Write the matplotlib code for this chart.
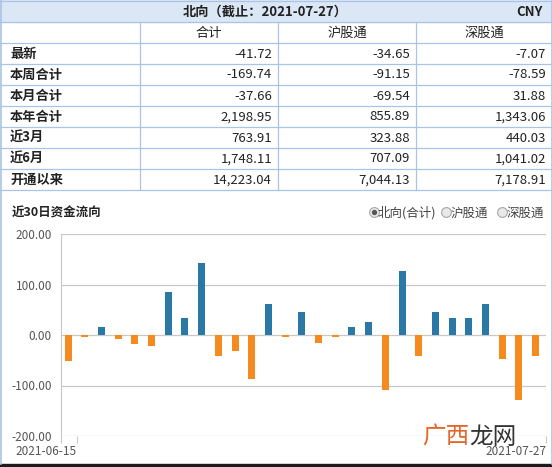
import numpy as np
import matplotlib
matplotlib.use('Agg')
import matplotlib.pyplot as plt
from matplotlib.patches import Rectangle

plt.rcParams['font.family'] = ['Noto Sans CJK SC', 'DejaVu Sans']

# 表格数据
row_names = ['最新', '本周合计', '本月合计', '本年合计', '近3月', '近6月', '开通以来']
col_names = ['合计', '沪股通', '深股通']
total = [-41.72, -169.74, -37.66, 2198.95, 763.91, 1748.11, 14223.04]
sh = [-34.65, -91.15, -69.54, 855.89, 323.88, 707.09, 7044.13]
sz = [-7.07, -78.59, 31.88, 1343.06, 440.03, 1041.02, 7178.91]

# 近30日北向(合计)每日净流入
flow = [-50.7, -3.0, 16.7, -8.7, -18.7, -22.7, 84.7, 32.7, 143.5, -40.7,
        -30.7, -86.7, 60.7, -3.0, 44.7, -16.0, -3.0, 16.7, 26.7, -108.7,
        126.7, -40.7, 44.7, 32.7, 32.7, 61.3, -46.7, -128.02, -41.72]
date_labels = ['2021-06-15', '2021-07-27']
yticks = [-200, -100, 0, 100, 200]

BLUE = '#2a78a6'
ORANGE = '#f58b1f'
LINE = '#a9c4e6'

fig = plt.figure(figsize=(5.52, 4.67), dpi=100)

# 背景层，用像素坐标画表格
bg = fig.add_axes([0, 0, 1, 1])
bg.set_xlim(0, 552)
bg.set_ylim(467, 0)
bg.axis('off')

bg.add_patch(Rectangle((0, 0), 552, 22, color='#dce7f6', zorder=0))
for y in [0.5, 22, 43, 64, 85, 106, 127, 148, 169, 190]:
    bg.plot([0, 552], [y, y], color=LINE, lw=0.9)
for x in [140, 278, 416]:
    bg.plot([x, x], [22, 190], color=LINE, lw=0.9)
bg.plot([0.5, 0.5], [0, 464], color=LINE, lw=1.2)
bg.plot([551.5, 551.5], [0, 464], color=LINE, lw=1.2)

bg.text(265, 11.5, '北向（截止：2021-07-27）', ha='center', va='center',
        fontsize=9.5, weight='bold', color='#222')
bg.text(543, 11.5, 'CNY', ha='right', va='center', fontsize=9.5, weight='bold', color='#222')

col_centers = [209, 347, 484]
col_rights = [272, 410, 546]
for c, name in enumerate(col_names):
    bg.text(col_centers[c], 33, name, ha='center', va='center', fontsize=9.5, color='#222')

for r, name in enumerate(row_names):
    y = 54 + 21 * r
    bg.text(10, y, name, ha='left', va='center', fontsize=9.5, weight='bold', color='#222')
    for c, vals in enumerate([total, sh, sz]):
        bg.text(col_rights[c], y, f'{vals[r]:,.2f}', ha='right', va='center',
                fontsize=9.5, color='#222')

# 图表标题和单选按钮
bg.text(12, 213, '近30日资金流向', ha='left', va='center', fontsize=9, weight='bold', color='#222')
bg.scatter([374, 446, 502], [212, 212, 212], s=50, facecolor='#e8e8e8',
           edgecolor='#a8a8a8', lw=0.8, zorder=3)
bg.scatter([374], [212], s=8, color='#555', zorder=4)
bg.text(378, 213, '北向(合计)', ha='left', va='center', fontsize=9, color='#444')
bg.text(451, 213, '沪股通', ha='left', va='center', fontsize=9, color='#444')
bg.text(507, 213, '深股通', ha='left', va='center', fontsize=9, color='#444')

# 水印
bg.text(422, 437, '广西', ha='left', va='center', fontsize=17, color='#e5652b', zorder=5)
bg.text(469, 437, '龙网', ha='left', va='center', fontsize=17, color='#333', zorder=5)

bg.add_patch(Rectangle((0, 464), 552, 3, color='#1b1b1b'))

# 柱状图
ax = fig.add_axes([61 / 552, (467 - 436) / 467, (546 - 61) / 552, (436 - 234) / 467])
ax.set_facecolor('none')
x = np.arange(len(flow))
colors = [BLUE if v >= 0 else ORANGE for v in flow]
ax.bar(x, flow, width=0.42, color=colors, zorder=3)

ax.set_ylim(-200, 200)
ax.set_yticks(yticks)
ax.set_yticklabels([f'{v:.2f}' for v in yticks])
xl, xr = -0.42, 28.62
ax.set_xlim(xl, xr)
ax.set_xticks([xl, 0.54, xr])
ax.set_xticklabels([''] + date_labels, ha='right')

ax.grid(axis='y', color='#c8c8c8', lw=0.9)
ax.set_axisbelow(True)
for s in ['top', 'right', 'bottom']:
    ax.spines[s].set_visible(False)
ax.spines['left'].set_color('#c8c8c8')
ax.tick_params(axis='y', length=0, pad=6.5, labelsize=8.5, labelcolor='#555')
ax.tick_params(axis='x', length=5, color='#c8c8c8', pad=1.5, labelsize=8.5, labelcolor='#555')

fig.savefig('out.png', dpi=100)
